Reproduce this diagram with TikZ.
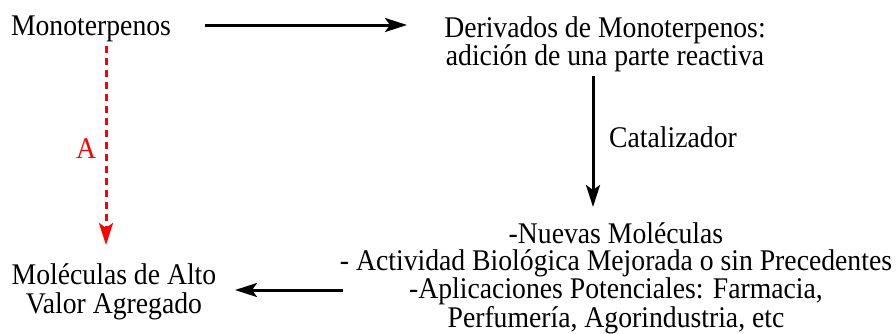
\documentclass[tikz,border=0pt]{standalone}
\usepackage{fontspec}
\setmainfont{Liberation Serif}[FakeStretch=0.923]
\usetikzlibrary{arrows.meta}
\begin{document}
\begin{tikzpicture}[x=1pt,y=-1pt,
  txt/.style={inner sep=0pt,align=center,font=\fontsize{30}{27}\selectfont},
  arr/.style={line width=3pt,-{Stealth[length=22pt,width=14pt,inset=5pt]}},
  redarr/.style={arr,red,dash pattern=on 7pt off 5pt}]
\useasboundingbox (0,0) rectangle (896,333);
\node[txt,anchor=base] (mono) at (91,35) {Monoterpenos};
\node[txt] (deriv) at (605,44.5) {Derivados de Monoterpenos:\\ adición de una parte reactiva};
\node[txt] (nuevas) at (616,278) {-Nuevas Moléculas\\- Actividad Biológica Mejorada o sin Precedentes\\-Aplicaciones Potenciales: Farmacia,\\Perfumería, Agorindustria, etc};
\node[txt,font=\fontsize{30}{28.5}\selectfont] (alto) at (114,292) {Moléculas de Alto\\Valor Agregado};
\node[txt,anchor=base west] (cat) at (609,147) {Catalizador};
\node[txt,anchor=base,red] (a) at (86,158) {A};
\draw[arr] (mono.east |- 0,25) ++(34,0) -- (407,25);
\draw[arr] (deriv.south -| 593,0) ++(0,4) -- (593,207);
\draw[arr] (nuevas.west |- 0,290) ++(3,0) -- (235,290);
\draw[redarr] (106,0 |- mono.south) ++(0,4) -- (106,245);
\end{tikzpicture}
\end{document}
